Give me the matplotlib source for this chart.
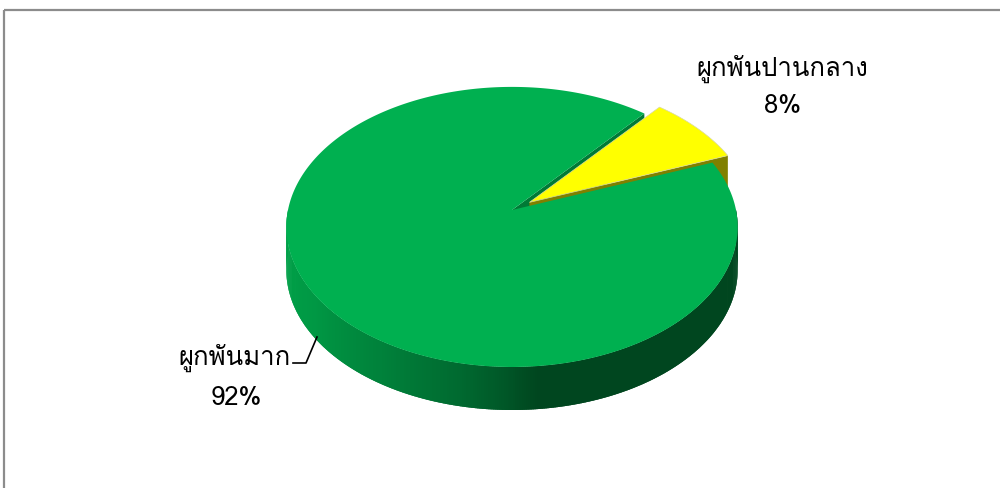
import numpy as np
import matplotlib
matplotlib.use('Agg')
import matplotlib.pyplot as plt
from matplotlib.patches import Polygon, Rectangle

# 泰文字体（Loma 带泰文字形），其余字符回退到 DejaVu Sans
plt.rcParams['font.family'] = ['Loma', 'DejaVu Sans']

# ============ 数据 ============
labels = ['ผูกพันมาก', 'ผูกพันปานกลาง']
percents = [92, 8]
top_colors = ['#00B050', '#FFFF00']

# ============ 画布（像素坐标） ============
fig = plt.figure(figsize=(10, 4.88), dpi=100)
ax = fig.add_axes([0, 0, 1, 1])
ax.set_xlim(0, 1000)
ax.set_ylim(488, 0)
ax.axis('off')

ax.add_patch(Rectangle((4, 10), 1010, 500, fill=False, edgecolor='#8c8c8c', lw=1.6))

# 透视投影参数
cx, cy, A, B, p, depth = 512, 210, 224, 138, 0.121, 43


def proj(u, v, off=(0, 0), drop=0):
    u = u + off[0]
    v = v + off[1]
    s = 1 + p * v
    return cx + A * u / s, cy - B * v / s + drop


def arc(a0, a1, n=200):
    t = np.radians(np.linspace(a0, a1, n))
    return np.cos(t), np.sin(t)


# 角度：黄色从21度开始逆时针
start = 21.0
spans = [v / 100 * 360 for v in percents]
y0, y1 = start, start + spans[1]
g0, g1 = y1, y1 + spans[0]
mid = np.radians((y0 + y1) / 2)
explode = 0.096
yoff = (explode * np.cos(mid), explode * np.sin(mid))

# 绿色切面
gx = np.array([0, np.cos(np.radians(g0))])
gy = np.array([0, np.sin(np.radians(g0))])
pts_top = [proj(u, v) for u, v in zip(gx, gy)]
pts_bot = [proj(u, v, drop=depth) for u, v in zip(gx, gy)]
ax.add_patch(Polygon(pts_top + pts_bot[::-1], closed=True, facecolor='#007A36', edgecolor='none'))

# 黄色：切面 + 顶面
fx = [0, np.cos(np.radians(y0))]
fy = [0, np.sin(np.radians(y0))]
pts_top = [proj(u, v, yoff) for u, v in zip(fx, fy)]
pts_bot = [proj(u, v, yoff, depth) for u, v in zip(fx, fy)]
ax.add_patch(Polygon(pts_top + pts_bot[::-1], closed=True, facecolor='#808000', edgecolor='none'))
u, v = arc(y0, y1)
pts = [proj(0, 0, yoff)] + [proj(a, b, yoff) for a, b in zip(u, v)]
ax.add_patch(Polygon(pts, closed=True, facecolor=top_colors[1], edgecolor='#d8d8a0', lw=0.5))

# 绿色侧面（按角度渐变）
shade_ang = [180, 215, 240, 258, 268, 272, 276, 360]
shade_g = [[0, 165, 74], [0, 152, 68], [0, 128, 58], [0, 106, 48], [0, 88, 40], [0, 78, 35], [0, 70, 31], [0, 70, 31]]
shade_g = np.array(shade_g) / 255
phis = np.linspace(180, 360, 360)
for a, b in zip(phis[:-1], phis[1:]):
    uu, vv = arc(a, b + 0.6, 3)
    top = [proj(x, y) for x, y in zip(uu, vv)]
    bot = [proj(x, y, drop=depth) for x, y in zip(uu, vv)]
    m = (a + b) / 2
    col = [np.interp(m, shade_ang, shade_g[:, k]) for k in range(3)]
    ax.add_patch(Polygon(top + bot[::-1], closed=True, facecolor=col, edgecolor='none'))

# 绿色顶面
u, v = arc(g0, g1, 600)
pts = [proj(0, 0)] + [proj(a, b) for a, b in zip(u, v)]
ax.add_patch(Polygon(pts, closed=True, facecolor=top_colors[0], edgecolor='none'))

# 标签
fs = 18.5
ax.text(782, 69, labels[1], ha='center', va='center', fontsize=fs)
ax.text(783, 106, f'{percents[1]}%', ha='center', va='center', fontsize=fs)
ax.text(235, 358, labels[0], ha='center', va='center', fontsize=fs)
ax.text(236, 398, f'{percents[0]}%', ha='center', va='center', fontsize=fs)
ax.plot([293, 306, 317], [363, 363, 337], color='black', lw=1.2)

fig.savefig('out.png', dpi=100)
